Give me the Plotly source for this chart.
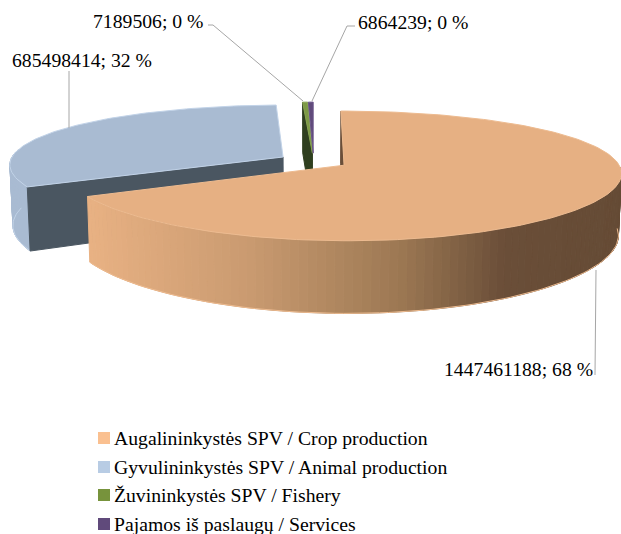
import math
import plotly.graph_objects as go

categories = ["Augalininkystės SPV / Crop production", "Gyvulininkystės SPV / Animal production",
              "Žuvininkystės SPV / Fishery", "Pajamos iš paslaugų / Services"]
values = [1447461188, 685498414, 7189506, 6864239]
percents = [68, 32, 0, 0]
legend_colors = ["#FAC090", "#B8CCE4", "#77933C", "#604A7B"]
top_colors = ["#E6B083", "#A9BBD2", "#7D9A45", "#604A7B"]
edge_colors = ["#EDBB90", "#C2D3E8", "#86A350", "#6A5488"]
wall_colors = ["#6A4E38", "#A9BBD2", "#7D9A45", "#604A7B"]
face_colors = ["#6A4E38", "#4A5661", "#2F3F1F", "#3A2C4C"]

W, H = 621, 534
CX, CY, RX, RY, DEPTH = 313.5, 161, 273, 61.7, 60
PY, PX, EXPL = 0.163, 0.115, 0.13
FONT = "Liberation Serif"
FS = 19.7

fig = go.Figure()


def project(u, v, drop=0.0):
    sy = 1 / (1 - PY * v)
    sx = 1 / (1 - PX * v)
    k = 1 - 0.01 * drop / DEPTH
    return CX + RX * u * sx * k, CY + sy * (RY * v + drop)


def disk(theta, off, r=1.0):
    return off[0] + r * math.sin(theta), off[1] - r * math.cos(theta)


def poly(pts, fill, line=None, width=1):
    xs = [p[0] for p in pts] + [pts[0][0]]
    ys = [p[1] for p in pts] + [pts[0][1]]
    fig.add_trace(go.Scatter(x=xs, y=ys, mode="lines", fill="toself", fillcolor=fill,
                             line=dict(color=line or fill, width=width),
                             hoverinfo="skip", showlegend=False))


def curve(pts, color, width=1):
    fig.add_trace(go.Scatter(x=[p[0] for p in pts], y=[p[1] for p in pts], mode="lines",
                             line=dict(color=color, width=width), hoverinfo="skip", showlegend=False))


def mix(a, b, t):
    ca = [int(a[i:i + 2], 16) for i in (1, 3, 5)]
    cb = [int(b[i:i + 2], 16) for i in (1, 3, 5)]
    return "#%02x%02x%02x" % tuple(round(x + (y - x) * t) for x, y in zip(ca, cb))


def orange_wall(x):
    stops = [(90, "#E8B183"), (250, "#C99A70"), (400, "#9C7853"), (505, "#6A4E38"), (625, "#654B35")]
    for (x0, c0), (x1, c1) in zip(stops, stops[1:]):
        if x <= x1:
            return mix(c0, c1, max(0, (x - x0) / (x1 - x0)))
    return stops[-1][1]


total = sum(values)
angles = [0.0]
for v in values:
    angles.append(angles[-1] + v / total * 2 * math.pi)

slices = []
for i in range(4):
    a0, a1 = angles[i], angles[i + 1]
    mid = (a0 + a1) / 2
    slices.append((a0, a1, (EXPL * math.sin(mid), -EXPL * math.cos(mid))))


def top_face(i):
    a0, a1, off = slices[i]
    n = max(4, int((a1 - a0) * 40))
    pts = [project(*off)]
    pts += [project(*disk(a0 + (a1 - a0) * j / n, off)) for j in range(n + 1)]
    poly(pts, top_colors[i], edge_colors[i], 1)


def radial_face(i, angle):
    off = slices[i][2]
    rim = disk(angle, off)
    poly([project(*off), project(*rim), project(*rim, DEPTH), project(*off, DEPTH)], face_colors[i])


# thin slices, back of the pie
radial_face(2, slices[2][0])
top_face(2)
top_face(3)

# animal production slice
a0, a1, off = slices[1]
steps = 24
wall_end = a0 + (a1 - a0) * 0.3
for j in range(steps):
    t0 = a0 + (wall_end - a0) * j / steps
    t1 = a0 + (wall_end - a0) * (j + 1) / steps
    d0, d1 = disk(t0, off), disk(t1, off)
    poly([project(*d0), project(*d1), project(*d1, DEPTH), project(*d0, DEPTH)], wall_colors[1])
curve([project(*disk(a0 + (wall_end - a0) * j / steps, off), DEPTH) for j in range(steps + 1)], edge_colors[1])
radial_face(1, a0)
top_face(1)

# crop production slice
a0, a1, off = slices[0]
radial_face(0, a0)
n_seg = 90
start = math.radians(92)
for j in range(n_seg):
    t0 = start + (a1 - start) * j / n_seg
    t1 = start + (a1 - start) * (j + 1) / n_seg
    d0, d1 = disk(t0, off), disk(t1, off)
    p0, p1 = project(*d0), project(*d1)
    poly([p0, p1, project(*d1, DEPTH), project(*d0, DEPTH)], orange_wall((p0[0] + p1[0]) / 2))
curve([project(*disk(start + (a1 - start) * j / n_seg, off), DEPTH) for j in range(n_seg + 1)], edge_colors[0])
top_face(0)

# leader lines
leaders = [[(596, 270), (595, 375)], [(69, 71), (69, 128)],
           [(208, 25), (213, 25), (303, 101)], [(355, 26), (347, 26), (312, 101)]]
for pts in leaders:
    curve(pts, "#A6A6A6", 1)

# data labels
label_pos = [(593, 369, "right"), (152, 60, "right"), (203, 21, "right"), (358, 22, "left")]
for i, (x, y, anchor) in enumerate(label_pos):
    fig.add_annotation(x=x, y=y, text=f"{values[i]}; {percents[i]} %", showarrow=False,
                       xanchor=anchor, yanchor="middle",
                       font=dict(family=FONT, size=FS, color="#000000"), borderpad=0, borderwidth=0)

# legend
legend_y = [438, 467, 495, 524]
for i, name in enumerate(categories):
    fig.add_trace(go.Scatter(x=[104], y=[legend_y[i]], mode="markers",
                             marker=dict(symbol="square", size=12, color=legend_colors[i]),
                             hoverinfo="skip", showlegend=False))
    fig.add_annotation(x=114, y=legend_y[i], text=name, showarrow=False, xanchor="left", yanchor="middle",
                       font=dict(family=FONT, size=FS, color="#000000"), borderpad=0, borderwidth=0)

fig.update_layout(width=W, height=H, margin=dict(l=0, r=0, t=0, b=0), paper_bgcolor="white", plot_bgcolor="white",
                  xaxis=dict(range=[0, W], visible=False, fixedrange=True),
                  yaxis=dict(range=[H, 0], visible=False, fixedrange=True), showlegend=False)
fig.write_html("out.html", config=dict(displayModeBar=False),
               post_script="document.body.style.margin='0';document.body.style.overflow='hidden';")
